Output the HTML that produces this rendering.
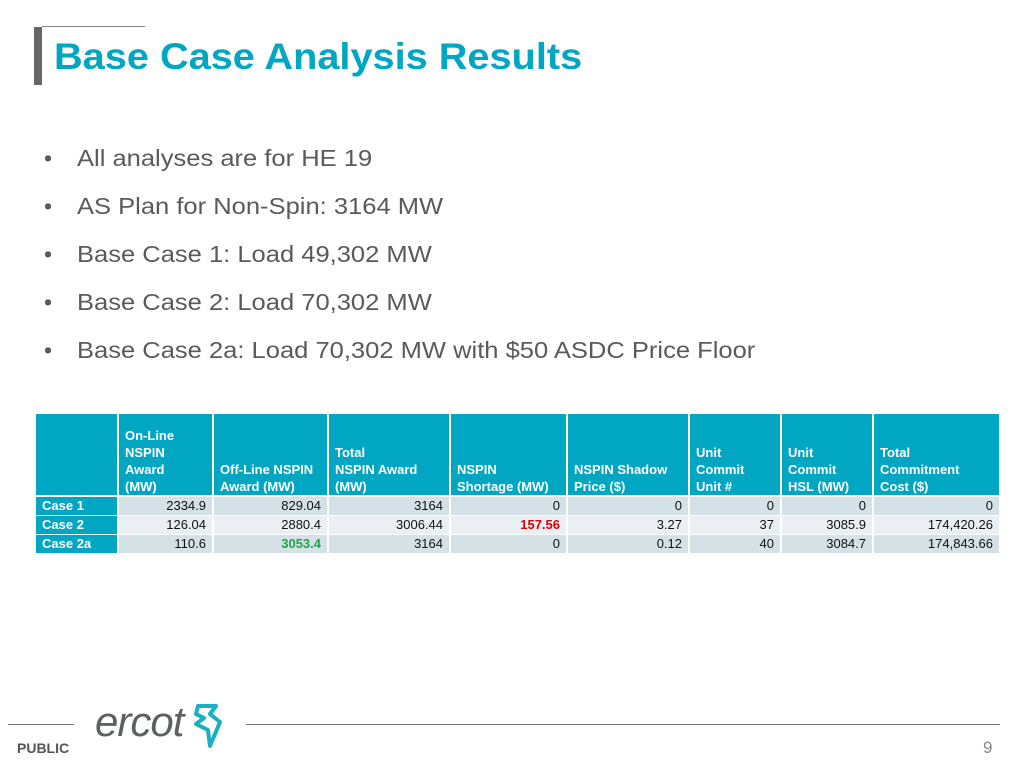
<!DOCTYPE html>
<html><head><meta charset="utf-8"><style>
body{margin:0;width:1024px;height:768px;background:#fff;position:relative;overflow:hidden;font-family:"Liberation Sans",Arial,sans-serif}
.a{position:absolute}
.bul{position:absolute;left:44px;font-size:23px;color:#5a5a5a}
.bul span{position:absolute;left:33px;white-space:nowrap;transform:scaleX(1.11);transform-origin:left}
.c{position:absolute;box-sizing:border-box;font-size:13px;overflow:hidden;white-space:nowrap}
.h{background:#00a6c2;color:#fff;font-weight:bold;padding:0 0 0 6px;line-height:17px;display:flex;flex-direction:column;justify-content:flex-end}
.r{color:#111;text-align:right;padding-right:6px;line-height:18px}
.lab{background:#00a6c2;color:#fff;font-weight:bold;padding-left:6px;line-height:18px}
</style></head><body>
<div class="a" style="left:34px;top:27px;width:8px;height:58px;background:#666"></div>
<div class="a" style="left:42px;top:26px;width:103px;height:1px;background:#888"></div>
<div class="a" style="left:54px;top:36px;font-size:37px;font-weight:bold;color:#00a6c2;transform:scaleX(1.073);transform-origin:left;white-space:nowrap">Base Case Analysis Results</div>
<div class="bul" style="top:145px">•<span>All analyses are for HE 19</span></div>
<div class="bul" style="top:193px">•<span>AS Plan for Non-Spin: 3164 MW</span></div>
<div class="bul" style="top:241px">•<span>Base Case 1: Load 49,302 MW</span></div>
<div class="bul" style="top:289px">•<span>Base Case 2: Load 70,302 MW</span></div>
<div class="bul" style="top:337px">•<span>Base Case 2a: Load 70,302 MW with $50 ASDC Price Floor</span></div>
<div id="tbl"></div>
<div class="a" style="left:8px;top:724px;width:66px;height:1px;background:#777"></div>
<div class="a" style="left:246px;top:724px;width:754px;height:1px;background:#777"></div>
<div class="a" style="left:95px;top:698px;font-size:42px;font-style:italic;color:#5d6062;letter-spacing:-1px">ercot</div>
<svg class="a" style="left:190px;top:702px" width="36" height="48"><path d="M8 4 L26 4 L20 12 L30 20 L20 44 L18 28 L6 22 L14 16 L6 12 Z" fill="none" stroke="#1ab0c4" stroke-width="4" stroke-linejoin="round"/></svg>
<div class="a" style="left:17px;top:740px;font-size:14px;font-weight:bold;color:#555">PUBLIC</div>
<div class="a" style="left:983px;top:738px;font-size:17px;color:#888">9</div>
<script>
const headers=["","On-Line<br>NSPIN<br>Award<br>(MW)","Off-Line NSPIN<br>Award (MW)","Total<br>NSPIN Award<br>(MW)","NSPIN<br>Shortage (MW)","NSPIN Shadow<br>Price ($)","Unit<br>Commit<br>Unit #","Unit<br>Commit<br>HSL (MW)","Total<br>Commitment<br>Cost ($)"];
const cases=["Case 1","Case 2","Case 2a"];
const rows=[["2334.9","829.04","3164","0","0","0","0","0"],["126.04","2880.4","3006.44","157.56","3.27","37","3085.9","174,420.26"],["110.6","3053.4","3164","0","0.12","40","3084.7","174,843.66"]];
const colors={"1,3":"#e00000","2,1":"#1fa64a"};
const xs=[35,118,213,328,450,567,689,781,873,1000];
const ys=[497,516,535,554];
const t=document.getElementById('tbl');
for(let i=0;i<headers.length;i++){const d=document.createElement('div');d.className='c h';


d.style.cssText=`left:${xs[i]+1}px;top:414px;width:${xs[i+1]-xs[i]-2}px;height:81px`;d.innerHTML='<div style="height:2px"></div>'+headers[i];d.style.paddingBottom='0';t.appendChild(d);}
for(let r=0;r<3;r++){const l=document.createElement('div');l.className='c lab';


l.style.cssText=`left:${xs[0]+1}px;top:${ys[r]}px;width:${xs[1]-xs[0]-2}px;height:18px`;l.textContent=cases[r];t.appendChild(l);
for(let c=0;c<8;c++){const d=document.createElement('div');d.className='c r';


d.style.cssText=`left:${xs[c+1]+1}px;top:${ys[r]}px;width:${xs[c+2]-xs[c+1]-2}px;height:18px;background:${r==1?'#e9eff2':'#d4e2e8'}`;
const k=r+','+c;if(colors[k]){d.style.color=colors[k];d.style.fontWeight='bold';}
d.textContent=rows[r][c];t.appendChild(d);}}
</script>
</body></html>
